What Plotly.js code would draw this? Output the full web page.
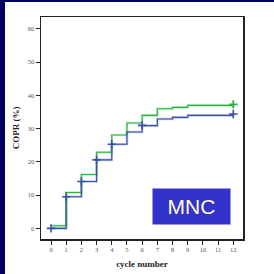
<!DOCTYPE html>
<html><head><meta charset="utf-8">
<script src="https://cdn.plot.ly/plotly-3.0.1.min.js"></script>
<style>
html,body{margin:0;padding:0;background:#00005f;width:274px;height:274px;overflow:hidden;}
#chart{position:absolute;left:5px;top:2px;width:269px;height:272px;background:#fff;}
</style></head><body>
<div id="chart"></div>
<script>
const cycles = [0,1,2,3,4,5,6,7,8,9,12];
const greenCOPR = [0.8,10.8,16.2,22.9,28.1,31.7,34.0,36.0,36.4,37.0,37.3];
const blueCOPR  = [0,9.5,14.1,20.6,25.3,29.0,30.9,32.9,33.4,34.0,34.4];
const blueCensorX = [0,1,2,3,4,6,12];
const blueCensorY = [0,9.5,14.1,20.6,25.3,31.0,34.4];
const greenCensorX = [12];
const greenCensorY = [37.3];
const xTicks = [0,1,2,3,4,5,6,7,8,9,10,11,12];
const yTicks = [0,10,20,30,40,50,60];
const labelText = "MNC";

const green = "#2fb343", blue = "#3a4fa6";
const traces = [
  {x:cycles,y:greenCOPR,mode:"lines",line:{shape:"hv",color:"rgba(47,179,67,0.3)",width:2.6},hoverinfo:"skip"},
  {x:cycles,y:blueCOPR,mode:"lines",line:{shape:"hv",color:"rgba(58,79,166,0.3)",width:2.6},hoverinfo:"skip"},
  {x:cycles,y:greenCOPR,mode:"lines",line:{shape:"hv",color:green,width:1.1}},
  {x:cycles,y:blueCOPR,mode:"lines",line:{shape:"hv",color:blue,width:1.1}},
  {x:blueCensorX,y:blueCensorY,mode:"markers",marker:{symbol:"cross-thin",size:6,line:{color:blue,width:1.6}}},
  {x:greenCensorX,y:greenCensorY,mode:"markers",marker:{symbol:"cross-thin",size:6,line:{color:green,width:1.8}}}
];
const tickFont = {family:"Liberation Serif, serif",size:6.5,color:"#555"};
const titleFont = {family:"Liberation Serif, serif",size:9,color:"#222",weight:"bold"};
const layout = {
  width:269,height:272,
  margin:{l:36,r:31,t:15,b:35},
  paper_bgcolor:"#fff",plot_bgcolor:"#fff",
  showlegend:false,
  xaxis:{range:[-0.66,12.64],tickvals:xTicks,ticktext:xTicks.map(String),ticks:"outside",ticklen:4,tickwidth:1,tickcolor:"#222",
    showline:true,mirror:true,linecolor:"#222",linewidth:1.5,showgrid:false,zeroline:false,tickfont:tickFont,
    title:{text:"<b>cycle number</b>",font:titleFont,standoff:8}},
  yaxis:{range:[-3.2,63.6],tickvals:yTicks,ticktext:yTicks.map(String),ticks:"outside",ticklen:4,tickwidth:1,tickcolor:"#222",
    showline:true,mirror:true,linecolor:"#222",linewidth:1.5,showgrid:false,zeroline:false,tickfont:tickFont,
    title:{text:"<b>COPR (%)</b>",font:titleFont,standoff:6}},
  annotations:[{xref:"x",yref:"y",x:9.25,y:6.6,text:labelText,showarrow:false,
    font:{family:"Liberation Sans, Arial, sans-serif",size:21,color:"#ffffcc"},
    bgcolor:"#3333cc",width:77,height:35,borderpad:0}]
};
Plotly.newPlot("chart",traces,layout,{staticPlot:true,displayModeBar:false});
</script></body></html>
